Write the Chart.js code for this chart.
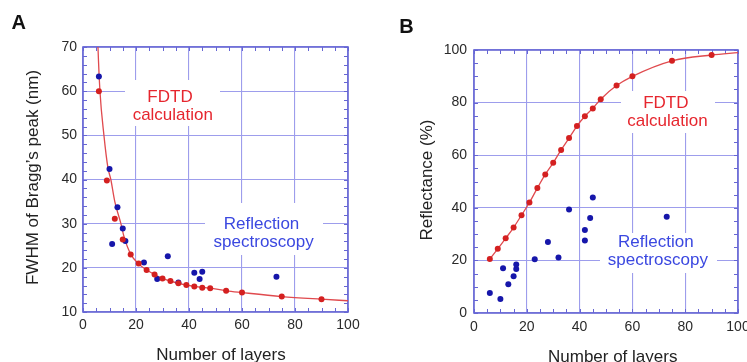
<!DOCTYPE html>
<html><head><meta charset="utf-8">
<script src="https://cdn.jsdelivr.net/npm/chart.js@4.4.1/dist/chart.umd.min.js"></script>
<style>
html,body{margin:0;padding:0;background:#fff;overflow:hidden;width:747px;height:362px;}
#wa{position:absolute;left:0;top:0;width:370px;height:362px;}
#wb{position:absolute;left:370px;top:0;width:400px;height:362px;}
</style></head><body>
<div id="wa"><canvas id="ca" width="370" height="362"></canvas></div>
<div id="wb"><canvas id="cb" width="400" height="362"></canvas></div>
<script>
// ---- data ----
const layersFdtd = [6, 9, 12, 15, 18, 21, 24, 27, 30, 33, 36, 39, 42, 45, 48, 54, 60, 75, 90];
const fwhmFdtd   = [60, 39.8, 31.1, 26.4, 23.0, 21.0, 19.5, 18.5, 17.6, 17.0, 16.5, 16.1, 15.8, 15.5, 15.4, 14.8, 14.4, 13.5, 12.9];
const reflFdtd   = [20.5, 24.4, 28.4, 32.5, 37.2, 42.0, 47.5, 52.7, 57.1, 62.0, 66.5, 71.1, 74.8, 77.8, 81.3, 86.5, 90.0, 95.9, 98.1];

const layersExpA = [6, 10, 11, 13, 15, 16, 23, 28, 32, 36, 42, 44, 45, 73];
const fwhmExp    = [63.3, 42.4, 25.4, 33.7, 28.9, 26.1, 21.2, 17.5, 22.6, 16.7, 18.9, 17.5, 19.1, 18.0];

const layersExpB = [6, 10, 11, 13, 15, 16, 16, 23, 28, 32, 36, 42, 42, 44, 45, 73];
const reflExp    = [7.6, 5.3, 17.0, 10.9, 14.0, 16.7, 18.4, 20.4, 27.0, 21.1, 39.4, 31.6, 27.6, 36.1, 43.9, 36.6];

const fwhmFitLayers = [5.4, 5.65, 6.4, 7.9, 9.4, 10.5, 12.0, 14.3, 15.5, 18, 21, 24, 27, 30, 36, 42, 48, 54, 60, 75, 90, 100];
const fwhmFitValues = [75, 70, 60, 50, 42.7, 40, 35, 30, 27.0, 23.1, 20.9, 19.5, 18.5, 17.6, 16.5, 15.8, 15.4, 14.8, 14.4, 13.5, 12.9, 12.55];

const reflFitLayers = [6, 9, 12, 15, 18, 21, 24, 27, 30, 33, 36, 39, 42, 45, 48, 54, 60, 75, 90, 100];
const reflFitValues = [20.5, 24.4, 28.4, 32.5, 37.2, 42.0, 47.5, 52.7, 57.1, 62.0, 66.5, 71.1, 74.8, 77.8, 81.3, 86.5, 90.0, 95.9, 98.1, 99.0];

const xTickStep = 20;
const labelsA = { panel: 'A', xTitle: 'Number of layers', yTitle: 'FWHM of Bragg\u2019s peak (nm)' };
const labelsB = { panel: 'B', xTitle: 'Number of layers', yTitle: 'Reflectance (%)' };
const noteFdtd = ['FDTD', 'calculation'];
const noteRefl = ['Reflection', 'spectroscopy'];

// ---- styling ----
const FONT = "'Liberation Sans', Arial, Helvetica, sans-serif";
const GRID = '#9d9dec';
const FRAME = '#6666d4';
const RED_PT = '#d42020';
const BLUE_PT = '#1616aa';
const RED_LINE = '#e04a4e';
const RED_TXT = '#e6262e';
const BLUE_TXT = '#3b48e0';
Chart.defaults.font.family = FONT;

const pts = (xs, ys) => xs.map((x, i) => ({ x: x, y: ys[i] }));

const decor = {
  id: 'decor',
  beforeDatasetsDraw(chart, args, o) {
    const ctx = chart.ctx, a = chart.chartArea;
    ctx.save();
    ctx.fillStyle = '#fff';
    o.boxes.forEach(b => ctx.fillRect(b[0], b[1], b[2] - b[0], b[3] - b[1]));
    ctx.textAlign = 'center';
    ctx.textBaseline = 'alphabetic';
    ctx.font = '17px ' + FONT;
    o.notes.forEach(n => { ctx.fillStyle = n.color; ctx.fillText(n.text, n.x, n.y); });
    // frame
    ctx.strokeStyle = FRAME;
    ctx.lineWidth = 1.6;
    ctx.strokeRect(a.left, a.top, a.right - a.left, a.bottom - a.top);
    // minor ticks
    const xs = chart.scales.x, ys = chart.scales.y;
    ctx.lineWidth = 1;
    ctx.beginPath();
    for (let v = xs.min; v <= xs.max + 1e-9; v += o.xMinor) {
      const p = Math.round(xs.getPixelForValue(v)) + 0.5;
      ctx.moveTo(p, a.bottom); ctx.lineTo(p, a.bottom - 4);
      ctx.moveTo(p, a.top); ctx.lineTo(p, a.top + 4);
    }
    for (let v = ys.min; v <= ys.max + 1e-9; v += o.yMinor) {
      const p = Math.round(ys.getPixelForValue(v)) + 0.5;
      ctx.moveTo(a.left, p); ctx.lineTo(a.left + 4, p);
      ctx.moveTo(a.right, p); ctx.lineTo(a.right - 4, p);
    }
    ctx.stroke();
    ctx.restore();
  },
  afterDraw(chart, args, o) {
    const ctx = chart.ctx;
    ctx.save();
    ctx.fillStyle = '#111';
    ctx.textBaseline = 'alphabetic';
    ctx.textAlign = 'left';
    ctx.font = 'bold 20px ' + FONT;
    ctx.fillText(o.labels.panel, o.panelPos[0], o.panelPos[1]);
    ctx.fillStyle = '#222';
    ctx.font = '17px ' + FONT;
    ctx.textAlign = 'center';
    ctx.fillText(o.labels.xTitle, o.xTitlePos[0], o.xTitlePos[1]);
    ctx.translate(o.yTitlePos[0], o.yTitlePos[1]);
    ctx.rotate(-Math.PI / 2);
    ctx.fillText(o.labels.yTitle, 0, 0);
    ctx.restore();
  }
};

function makeChart(id, cfg) {
  const canvas = document.getElementById(id);
  const W = canvas.width, H = canvas.height;
  return new Chart(canvas, {
    type: 'scatter',
    data: { datasets: cfg.datasets },
    plugins: [decor],
    options: {
      responsive: false,
      animation: false,
      devicePixelRatio: 1,
      layout: { padding: { left: 0, top: cfg.area.top, right: W - cfg.area.right, bottom: 0 } },
      plugins: { legend: { display: false }, tooltip: { enabled: false }, decor: cfg.decor },
      scales: {
        x: {
          type: 'linear', min: 0, max: 100,
          afterFit: s => { s.height = H - cfg.area.bottom; },
          grid: { color: GRID, lineWidth: 1.1, drawTicks: false },
          border: { display: false },
          ticks: { stepSize: xTickStep, padding: cfg.xPad, color: '#2a2a2a', font: { size: 14, family: FONT } }
        },
        y: {
          type: 'linear', min: cfg.yMin, max: cfg.yMax,
          afterFit: s => { s.width = cfg.area.left; },
          grid: { color: GRID, lineWidth: 1.1, drawTicks: false },
          border: { display: false },
          ticks: { stepSize: cfg.yStep, padding: cfg.yPad, color: '#2a2a2a', font: { size: 14, family: FONT } }
        }
      }
    }
  });
}

makeChart('ca', {
  area: { left: 83, top: 47, right: 348, bottom: 312 },
  yMin: 10, yMax: 70, yStep: 10, xPad: 5, yPad: 6,
  datasets: [
    { data: pts(layersFdtd, fwhmFdtd), pointRadius: 3, backgroundColor: RED_PT, borderWidth: 0, order: 1 },
    { data: pts(layersExpA, fwhmExp), pointRadius: 3, backgroundColor: BLUE_PT, borderWidth: 0, order: 2 },
    { type: 'line', data: pts(fwhmFitLayers, fwhmFitValues), showLine: true, pointRadius: 0, borderColor: RED_LINE, borderWidth: 1.3, cubicInterpolationMode: 'monotone', fill: false, order: 3 }
  ],
  decor: {
    xMinor: 5, yMinor: 2,
    boxes: [[125, 80, 220, 126], [205, 203, 323, 255]],
    notes: [
      { text: noteFdtd[0], x: 170, y: 101.7, color: RED_TXT },
      { text: noteFdtd[1], x: 172.8, y: 120, color: RED_TXT },
      { text: noteRefl[0], x: 261.5, y: 229, color: BLUE_TXT },
      { text: noteRefl[1], x: 263.7, y: 246.5, color: BLUE_TXT }
    ],
    labels: labelsA, panelPos: [11.5, 29.3], xTitlePos: [221, 360], yTitlePos: [37.5, 177.5]
  }
});

makeChart('cb', {
  area: { left: 104, top: 50, right: 368, bottom: 313 },
  yMin: 0, yMax: 100, yStep: 20, xPad: 6, yPad: 7,
  datasets: [
    { data: pts(layersFdtd, reflFdtd), pointRadius: 3, backgroundColor: RED_PT, borderWidth: 0, order: 1 },
    { data: pts(layersExpB, reflExp), pointRadius: 3, backgroundColor: BLUE_PT, borderWidth: 0, order: 2 },
    { type: 'line', data: pts(reflFitLayers, reflFitValues), showLine: true, pointRadius: 0, borderColor: RED_LINE, borderWidth: 1.3, cubicInterpolationMode: 'monotone', fill: false, order: 3 }
  ],
  decor: {
    xMinor: 5, yMinor: 5,
    boxes: [[251, 91, 345, 133], [230, 233, 347, 273]],
    notes: [
      { text: noteFdtd[0], x: 295.8, y: 108.3, color: RED_TXT },
      { text: noteFdtd[1], x: 297.5, y: 126, color: RED_TXT },
      { text: noteRefl[0], x: 285.8, y: 247.3, color: BLUE_TXT },
      { text: noteRefl[1], x: 287.8, y: 265, color: BLUE_TXT }
    ],
    labels: labelsB, panelPos: [29.3, 33.3], xTitlePos: [242.7, 361.7], yTitlePos: [61.5, 180]
  }
});
</script>
</body></html>
